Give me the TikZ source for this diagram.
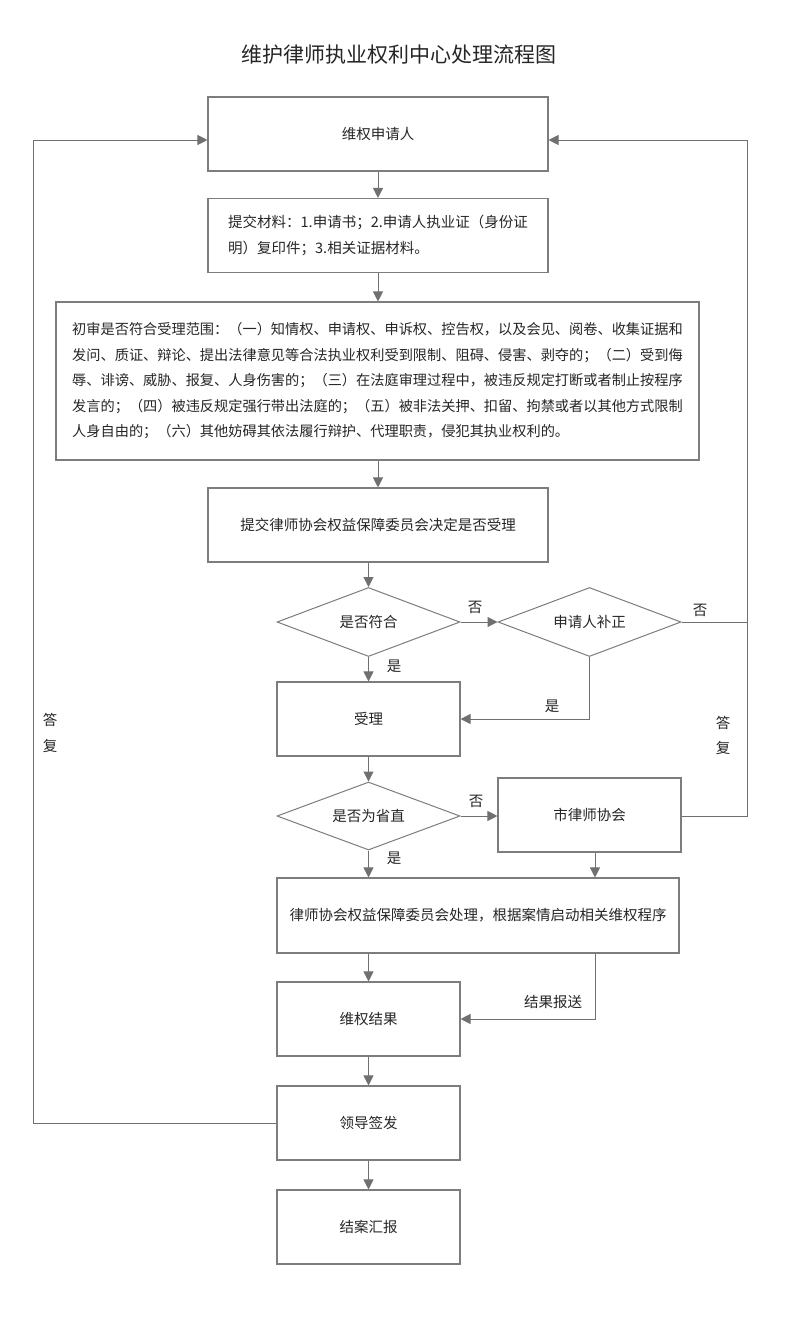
\documentclass[tikz,border=0pt]{standalone}
\usepackage{fontspec}
\setmainfont{Noto Sans CJK SC}
\usetikzlibrary{arrows.meta,shapes.geometric,calc}
\definecolor{linec}{RGB}{112,112,112}
\definecolor{boxc}{RGB}{125,125,125}
\definecolor{txtc}{RGB}{38,38,38}
\begin{document}
\begin{tikzpicture}[x=1pt,y=-1pt,
  every node/.style={text=txtc, font=\fontsize{14.5}{25.5}\selectfont},
  box/.style={draw=boxc, line width=1.1pt, rectangle, inner sep=0pt, align=left},
  dia/.style={draw=boxc, line width=1pt, diamond, aspect=2.65, inner sep=0pt, minimum width=183pt, minimum height=69pt},
  lbl/.style={inner sep=0pt},
  conn/.style={draw=linec, line width=1pt},
  arr/.style={conn, -{Triangle[length=10pt,width=10pt]}}
]
\useasboundingbox[fill=white] (0,0) rectangle (800,1326);

\node[lbl, font=\fontsize{21}{25}\selectfont] (title) at (399,55) {维护律师执业权利中心处理流程图};

\node[box, minimum width=340pt, minimum height=74pt] (b1) at (378,134) {维权申请人};
\node[box, minimum width=340pt, minimum height=74pt] (b2) at (378,235.5) {提交材料：1.申请书；2.申请人执业证（身份证\\明）复印件；3.相关证据材料。};
\node[box, minimum width=643pt, minimum height=158pt, font=\fontsize{14.2}{25.5}\selectfont] (b3) at (377.5,381) {初审是否符合受理范围：（一）知情权、申请权、申诉权、控告权，以及会见、阅卷、收集证据和\\发问、质证、辩论、提出法律意见等合法执业权利受到限制、阻碍、侵害、剥夺的；（二）受到侮\\辱、诽谤、威胁、报复、人身伤害的；（三）在法庭审理过程中，被违反规定打断或者制止按程序\\发言的；（四）被违反规定强行带出法庭的；（五）被非法关押、扣留、拘禁或者以其他方式限制\\人身自由的；（六）其他妨碍其依法履行辩护、代理职责，侵犯其执业权利的。};
\node[box, minimum width=340pt, minimum height=74pt] (b4) at (378,525) {提交律师协会权益保障委员会决定是否受理};

\node[dia] (d1) at (368.5,622) {是否符合};
\node[dia] (d2) at (589.5,622) {申请人补正};
\node[box, minimum width=183pt, minimum height=74pt] (sl) at (368.5,719) {受理};
\node[dia, minimum height=68pt] (d3) at (368.5,816) {是否为省直};
\node[box, minimum width=183pt, minimum height=74pt] (sh) at (589.5,815) {市律师协会};
\node[box, minimum width=402pt, minimum height=75pt] (big) at (478,915.5) {律师协会权益保障委员会处理，根据案情启动相关维权程序};
\node[box, minimum width=183pt, minimum height=74pt] (jg) at (368.5,1019) {维权结果};
\node[box, minimum width=183pt, minimum height=74pt] (ld) at (368.5,1123) {领导签发};
\node[box, minimum width=183pt, minimum height=74pt] (ja) at (368.5,1227) {结案汇报};

\coordinate (rtop) at (747,140);
\coordinate (ltop) at (33,140);
\coordinate (c595) at (595,0);

% main column
\draw[arr] (b1) -- (b2);
\draw[arr] (b2.south) -- (b2.south |- b3.north);
\draw[arr] (b3.south -| b2.south) -- (b4.north -| b2.south);
\draw[arr] (b4.south -| d1.north) -- (d1.north);
\draw[arr] (d1.east) -- (d2.west);
\draw[arr] (d1.south) -- (sl.north);
\draw[arr] (d2.south) |- (sl.east);
\draw[conn] (d2.east) -- (d2.east -| rtop);
\draw[arr] (sh.east |- d3.east) -| (rtop) -- (rtop -| b1.east);
\draw[arr] (sl.south) -- (d3.north);
\draw[arr] (d3.east) -- (d3.east -| sh.west);
\draw[arr] (d3.south) -- (d3.south |- big.north);
\draw[arr] (sh.south -| c595) -- (big.north -| c595);
\draw[arr] (big.south -| jg.north) -- (jg.north);
\draw[arr] (big.south -| c595) |- (jg.east);
\draw[arr] (jg) -- (ld);
\draw[arr] (ld) -- (ja);
\draw[arr] (ld.west) -| (ltop) -- (ltop -| b1.west);

% labels
\node[lbl] (n1) at (475,607) {否};
\node[lbl] (n2) at (700,610) {否};
\node[lbl] (y1) at (394,666) {是};
\node[lbl] (y2) at (552,706) {是};
\node[lbl] (n3) at (476,801) {否};
\node[lbl] (y3) at (394,858) {是};
\node[lbl] (jb) at (553,1002) {结果报送};
\node[lbl] (ra1) at (723,723) {答};
\node[lbl] (ra2) at (723,748) {复};
\node[lbl] (la1) at (50,720) {答};
\node[lbl] (la2) at (50,746) {复};
\end{tikzpicture}
\end{document}
